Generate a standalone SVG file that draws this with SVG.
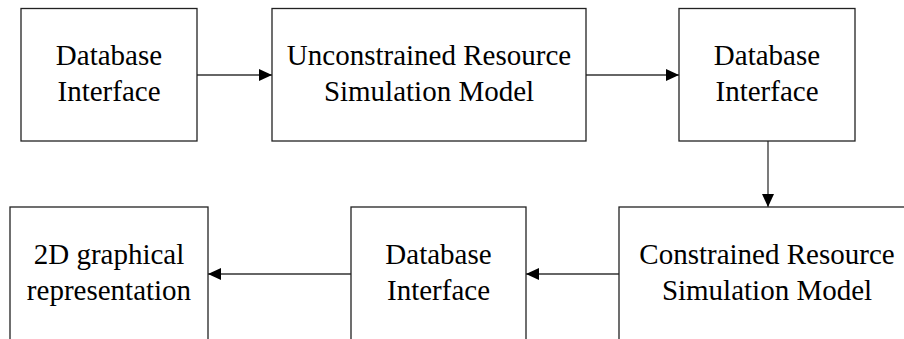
<svg xmlns="http://www.w3.org/2000/svg" width="904" height="339" viewBox="0 0 904 339">
<defs>
<marker id="ah" markerUnits="userSpaceOnUse" markerWidth="14" markerHeight="12" refX="13" refY="6" orient="auto">
<path d="M0,0 L13,6 L0,12 Z" fill="#000"/>
</marker>
<style>
.box{fill:#fff;stroke:#222;stroke-width:1.3}
.lbl{font-family:"Liberation Serif","Times New Roman",serif;font-size:29px;fill:#000;text-anchor:middle}
.con{stroke:#333;stroke-width:1.3;fill:none}
</style>
</defs>
<rect width="904" height="339" fill="#fff"/>
<g id="connectors">
<line class="con" x1="197" y1="75" x2="272" y2="75" marker-end="url(#ah)"/>
<line class="con" x1="586" y1="75" x2="679" y2="75" marker-end="url(#ah)"/>
<line class="con" x1="768" y1="141" x2="768" y2="207" marker-end="url(#ah)"/>
<line class="con" x1="619" y1="274" x2="526" y2="274" marker-end="url(#ah)"/>
<line class="con" x1="351" y1="274" x2="208" y2="274" marker-end="url(#ah)"/>
</g>
<g id="db1">
<rect class="box" x="21" y="8.5" width="176" height="132.5"/>
<text class="lbl" x="109" y="65">Database</text>
<text class="lbl" x="109" y="101">Interface</text>
</g>
<g id="unconstrained">
<rect class="box" x="272" y="8.5" width="314" height="132.5"/>
<text class="lbl" x="429" y="65">Unconstrained Resource</text>
<text class="lbl" x="429" y="101">Simulation Model</text>
</g>
<g id="db2">
<rect class="box" x="679" y="8.5" width="176" height="132.5"/>
<text class="lbl" x="767" y="65">Database</text>
<text class="lbl" x="767" y="101">Interface</text>
</g>
<g id="constrained">
<rect class="box" x="619" y="207" width="296" height="140"/>
<text class="lbl" x="767" y="264">Constrained Resource</text>
<text class="lbl" x="767" y="300">Simulation Model</text>
</g>
<g id="db3">
<rect class="box" x="351" y="207" width="175" height="140"/>
<text class="lbl" x="438.5" y="264">Database</text>
<text class="lbl" x="438.5" y="300">Interface</text>
</g>
<g id="graphical">
<rect class="box" x="10" y="207" width="198" height="140"/>
<text class="lbl" x="109" y="264">2D graphical</text>
<text class="lbl" x="109" y="300">representation</text>
</g>
</svg>
